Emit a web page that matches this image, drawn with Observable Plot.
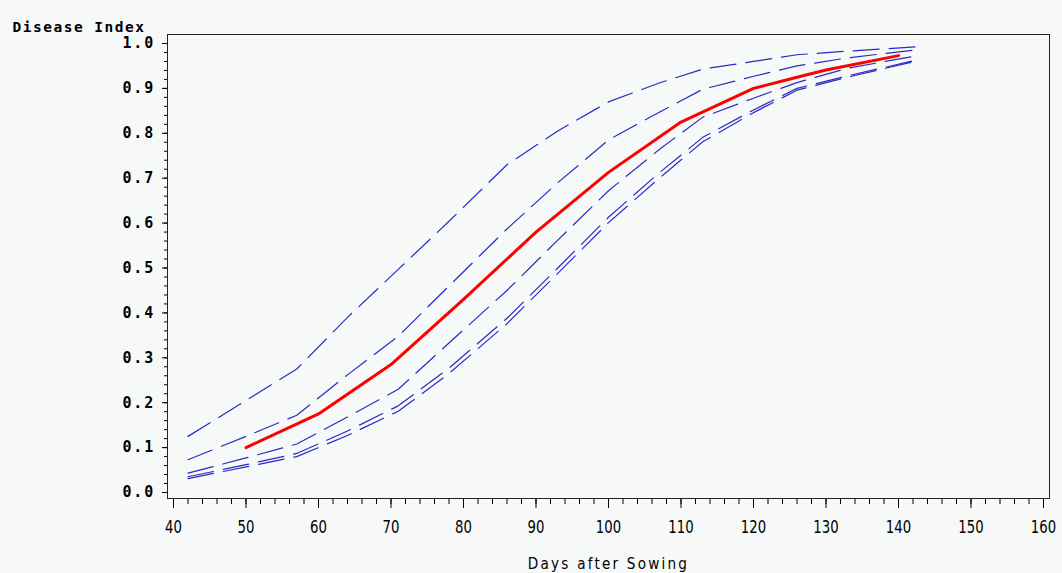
<!DOCTYPE html>
<html><head><meta charset="utf-8">
<script src="https://cdn.jsdelivr.net/npm/d3@7"></script>
<script src="https://cdn.jsdelivr.net/npm/@observablehq/plot@0.6"></script>
<style>
html,body{margin:0;padding:0;background:#f6f9f8;}
#chart svg{display:block;}
</style></head><body><div id="chart"></div>
<script>
// ---- data ----
const blueDays = [42, 50, 57, 64, 71, 78, 86, 93, 100, 107, 113, 120, 126, 133, 143];
const curveA = [0.125, 0.205, 0.275, 0.390, 0.497, 0.604, 0.730, 0.805, 0.870, 0.912, 0.943, 0.960, 0.975, 0.983, 0.993];
const curveB = [0.073, 0.125, 0.172, 0.262, 0.348, 0.460, 0.587, 0.690, 0.785, 0.847, 0.898, 0.927, 0.950, 0.968, 0.987];
const curveC = [0.043, 0.077, 0.108, 0.168, 0.230, 0.333, 0.450, 0.562, 0.672, 0.764, 0.836, 0.878, 0.913, 0.945, 0.974];
const curveD = [0.035, 0.062, 0.087, 0.137, 0.193, 0.277, 0.388, 0.500, 0.613, 0.712, 0.791, 0.852, 0.900, 0.928, 0.965];
const curveE = [0.031, 0.057, 0.080, 0.127, 0.181, 0.265, 0.376, 0.488, 0.601, 0.700, 0.781, 0.846, 0.896, 0.925, 0.963];
const redDays = [50, 60, 70, 80, 90, 100, 110, 120, 126, 130, 140];
const redValues = [0.100, 0.175, 0.285, 0.430, 0.580, 0.713, 0.825, 0.900, 0.925, 0.941, 0.973];

const xTicks = [40, 50, 60, 70, 80, 90, 100, 110, 120, 130, 140, 150, 160];
const xMinorTicks = [40,42,44,46,48,50,52,54,56,58,60,62,64,66,68,70,72,74,76,78,80,82,84,86,88,90,92,94,96,98,100,102,104,106,108,110,112,114,116,118,120,122,124,126,128,130,132,134,136,138,140,142,144,146,148,150,152,154,156,158,160];
const yTicks = [0, 0.1, 0.2, 0.3, 0.4, 0.5, 0.6, 0.7, 0.8, 0.9, 1.0];
const yMinorTicks = [0,0.02,0.04,0.06,0.08,0.1,0.12,0.14,0.16,0.18,0.2,0.22,0.24,0.26,0.28,0.3,0.32,0.34,0.36,0.38,0.4,0.42,0.44,0.46,0.48,0.5,0.52,0.54,0.56,0.58,0.6,0.62,0.64,0.66,0.68,0.7,0.72,0.74,0.76,0.78,0.8,0.82,0.84,0.86,0.88,0.9,0.92,0.94,0.96,0.98,1.0];
const xTitle = "Days after Sowing";
const yTitle = "Disease Index";

// ---- build tables ----
const blueSeries = [["A", curveA], ["B", curveB], ["C", curveC], ["D", curveD], ["E", curveE]];
const blueRows = blueSeries.flatMap(([name, vals]) => blueDays.map((d, i) => ({name, day: d, value: vals[i]})));
const redRows = redDays.map((d, i) => ({day: d, value: redValues[i]}));

const mono = "'DejaVu Sans Mono', 'Liberation Mono', monospace";
const sans = "'DejaVu Sans', 'Liberation Sans', sans-serif";
const blue = "#2a2ac4";

const plot = Plot.plot({
  width: 1062, height: 573,
  marginLeft: 167, marginRight: 13, marginTop: 34, marginBottom: 75,
  style: {background: "#f6f9f8", overflow: "visible", color: "#000"},
  x: {domain: [40, 160], insetLeft: 6, insetRight: 6, label: null},
  y: {domain: [0, 1], insetTop: 9, insetBottom: 6, label: null},
  marks: [
    Plot.line(blueRows, {x: "day", y: "value", z: "name", stroke: blue, strokeWidth: 1.2, strokeDasharray: "26,10"}),
    Plot.line(redRows, {x: "day", y: "value", stroke: "#ff0000", strokeWidth: 3}),
    Plot.axisX({ticks: xMinorTicks, tickSize: 6, tickFormat: () => "", label: null}),
    Plot.axisX({ticks: xTicks, tickSize: 10, tickPadding: 12, label: null, fontSize: 17, fontFamily: sans, fontWeight: 500, tickFormat: d3.format("d")}),
    Plot.axisY({ticks: yMinorTicks, tickSize: 3, tickFormat: () => "", label: null}),
    Plot.axisY({ticks: yTicks, tickSize: 5, tickPadding: 9, label: null, fontSize: 15, fontWeight: "bold", fontFamily: mono, tickFormat: d3.format(".1f")}),
    Plot.frame({stroke: "#222"}),
    Plot.text([yTitle], {text: d => d, frameAnchor: "top-left", dx: -155, dy: -3, textAnchor: "start", lineAnchor: "bottom", fontWeight: "bold", fontFamily: mono, fontSize: 14.5}),
    Plot.text([xTitle], {text: d => d, frameAnchor: "bottom", dy: 65, lineAnchor: "middle", fontFamily: sans, fontSize: 16})
  ]
});
document.getElementById("chart").appendChild(plot);
// mimic the SAS bitmap fonts: letter spacing and horizontally condensed glyphs
const sel = d3.select(plot);
sel.selectAll('g[aria-label="y-axis tick label"] text').attr("letter-spacing", "1.8px").attr("dx", "1.5px");
function condense(node, sx, sy) {
  const t = node.getAttribute("transform") || "";
  node.setAttribute("transform", t + ` scale(${sx},${sy})`);
}
sel.selectAll('g[aria-label="x-axis tick label"] text').each(function(){
  if (this.getAttribute("transform")) condense(this, 0.78, 1.05);
});
sel.selectAll('g[aria-label="text"] text').each(function(){
  if (this.textContent === yTitle) this.setAttribute("letter-spacing", "1.5px");
  if (this.textContent === xTitle) { this.setAttribute("letter-spacing", "2.6px"); if (this.getAttribute("transform")) condense(this, 0.85, 1); }
});
</script></body></html>
